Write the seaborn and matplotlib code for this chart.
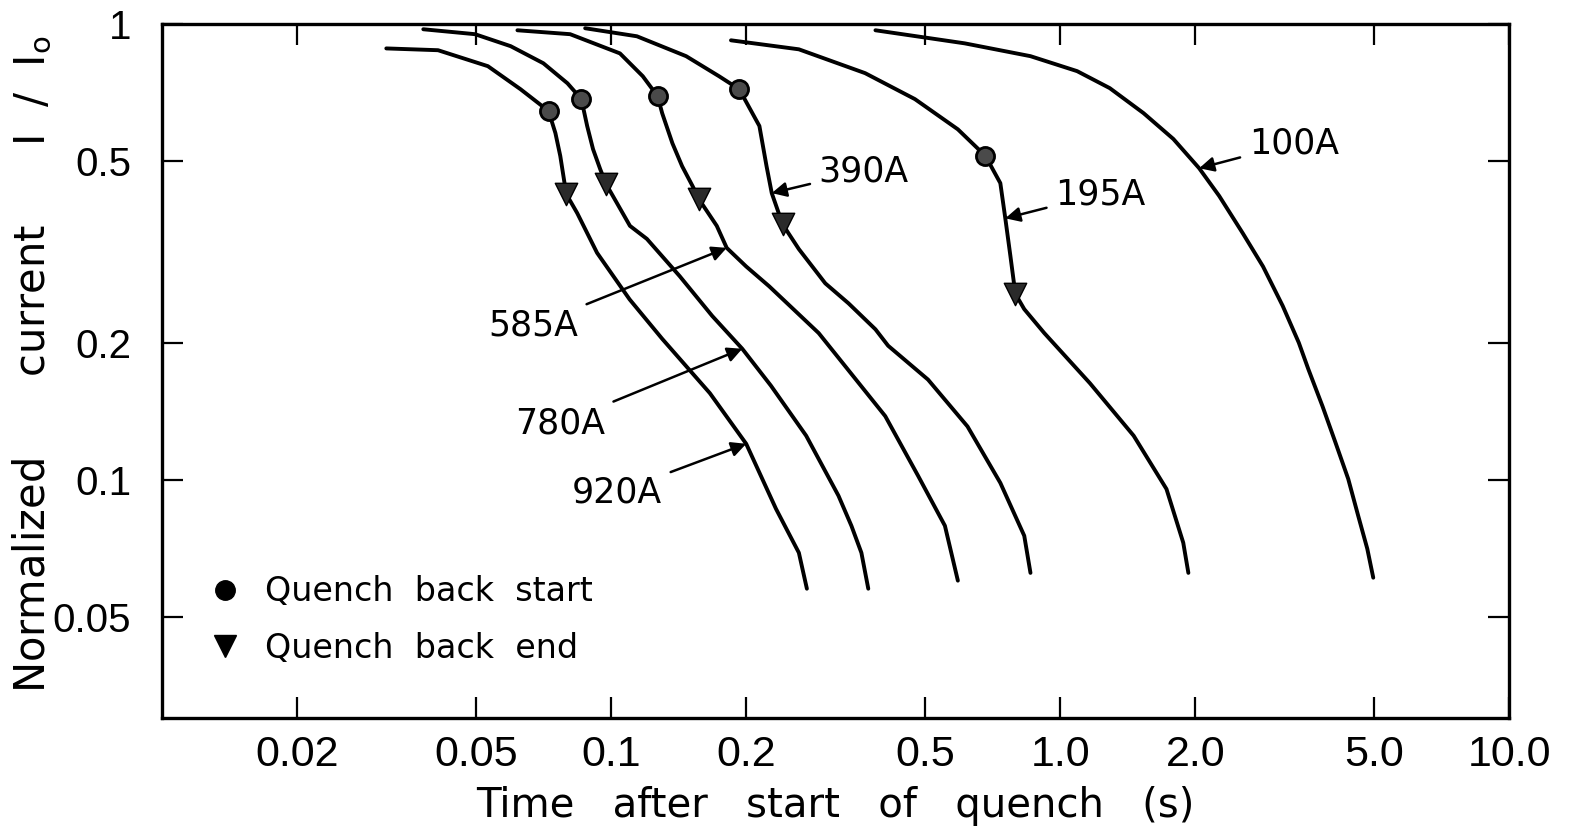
"""
Quench current decay curves, log-log, with quench-back markers.
"""

import matplotlib.pyplot as plt
from matplotlib.lines import Line2D
import pandas as pd
import seaborn as sns

# --- data ---------------------------------------------------------------
t_920 = [0.0316, 0.0412, 0.0532, 0.0629, 0.0726, 0.0752, 0.0771, 0.0795, 0.0841,
         0.0931, 0.110, 0.130, 0.166, 0.200, 0.233, 0.262, 0.273]
i_920 = [0.885, 0.877, 0.809, 0.720, 0.645, 0.577, 0.514, 0.424, 0.385,
         0.315, 0.249, 0.204, 0.155, 0.120, 0.0864, 0.0692, 0.0577]

t_780 = [0.0382, 0.0498, 0.0598, 0.0707, 0.0800, 0.0859, 0.0885, 0.0912, 0.0946,
         0.0975, 0.1031, 0.1102, 0.1202, 0.1422, 0.168, 0.196, 0.227, 0.272,
         0.321, 0.343, 0.361, 0.374]
i_780 = [0.975, 0.951, 0.895, 0.821, 0.742, 0.685, 0.598, 0.532, 0.481,
         0.446, 0.405, 0.361, 0.338, 0.280, 0.229, 0.194, 0.161, 0.125,
         0.0923, 0.0793, 0.0692, 0.0577]

t_585 = [0.0619, 0.0811, 0.1047, 0.1177, 0.127, 0.130, 0.137, 0.144, 0.152,
         0.157, 0.172, 0.181, 0.200, 0.225, 0.290, 0.408, 0.483, 0.554, 0.592]
i_585 = [0.970, 0.951, 0.863, 0.769, 0.695, 0.638, 0.548, 0.488, 0.441,
         0.413, 0.361, 0.323, 0.294, 0.266, 0.210, 0.138, 0.102, 0.0793, 0.0601]

t_390 = [0.0876, 0.1142, 0.147, 0.174, 0.193, 0.214, 0.222, 0.228, 0.241,
         0.262, 0.300, 0.338, 0.388, 0.414, 0.508, 0.622, 0.736, 0.832, 0.859]
i_390 = [0.980, 0.941, 0.851, 0.769, 0.720, 0.598, 0.488, 0.426, 0.364,
         0.321, 0.270, 0.244, 0.214, 0.197, 0.166, 0.131, 0.0985, 0.0754, 0.0625]

t_195 = [0.185, 0.262, 0.368, 0.475, 0.592, 0.682, 0.736, 0.755, 0.775,
         0.795, 0.832, 0.922, 1.165, 1.458, 1.725, 1.880, 1.930]
i_195 = [0.922, 0.881, 0.781, 0.685, 0.588, 0.514, 0.448, 0.375, 0.310,
         0.256, 0.237, 0.210, 0.163, 0.125, 0.0955, 0.0728, 0.0625]

t_100 = [0.388, 0.613, 0.859, 1.091, 1.29, 1.534, 1.787, 2.04, 2.26, 2.55, 2.83,
         3.13, 3.40, 3.57, 3.84, 4.10, 4.38, 4.61, 4.83, 4.98]
i_100 = [0.970, 0.908, 0.851, 0.789, 0.724, 0.638, 0.560, 0.483, 0.420, 0.348, 0.294,
         0.241, 0.200, 0.175, 0.145, 0.121, 0.1005, 0.0834, 0.0706, 0.0610]

currents = ["920A", "780A", "585A", "390A", "195A", "100A"]

# quench back start (circle) / end (triangle) points
qb_currents = ["920A", "780A", "585A", "390A", "195A"]
qb_start_t = [0.0726, 0.0859, 0.127, 0.193, 0.682]
qb_start_i = [0.645, 0.685, 0.695, 0.720, 0.514]
qb_end_t = [0.0795, 0.0975, 0.157, 0.241, 0.795]
qb_end_i = [0.424, 0.446, 0.413, 0.364, 0.256]

x_ticks = [0.02, 0.05, 0.1, 0.2, 0.5, 1.0, 2.0, 5.0, 10.0]
x_ticklabels = ["0.02", "0.05", "0.1", "0.2", "0.5", "1.0", "2.0", "5.0", "10.0"]
y_ticks = [0.05, 0.1, 0.2, 0.5, 1.0]
y_ticklabels = ["0.05", "0.1", "0.2", "0.5", "1"]

# label text position (tail of arrow) and arrow head, per curve
label_layout = {
    "585A": ((0.0845, 0.218), (0.181, 0.323), "right"),
    "780A": ((0.097, 0.133), (0.196, 0.194), "right"),
    "920A": ((0.130, 0.094), (0.200, 0.120), "right"),
    "390A": ((0.290, 0.476), (0.228, 0.426), "left"),
    "195A": ((0.975, 0.424), (0.755, 0.375), "left"),
    "100A": ((2.63, 0.548), (2.04, 0.483), "left"),
}

curves = {
    "920A": (t_920, i_920), "780A": (t_780, i_780), "585A": (t_585, i_585),
    "390A": (t_390, i_390), "195A": (t_195, i_195), "100A": (t_100, i_100),
}
rows = []
for name in currents:
    t, i = curves[name]
    for k, (tt, ii) in enumerate(zip(t, i)):
        rows.append({"current": name, "order": k, "t": tt, "I": ii})
df = pd.DataFrame(rows)

qb_start = pd.DataFrame({"current": qb_currents, "t": qb_start_t, "I": qb_start_i})
qb_end = pd.DataFrame({"current": qb_currents, "t": qb_end_t, "I": qb_end_i})

# --- plot ------------------------------------------------------------------
sns.set_theme(style="ticks")
plt.rcParams["font.family"] = ["DejaVu Sans"]
for key in ["text.color", "axes.labelcolor", "xtick.color", "ytick.color", "axes.edgecolor"]:
    plt.rcParams[key] = "black"
tick_font = ["Liberation Sans", "DejaVu Sans"]

fig = plt.figure(figsize=(15.87, 8.36), dpi=100)
ax = fig.add_axes([0.102, 0.141, 0.849, 0.830])

sns.lineplot(
    data=df, x="t", y="I", hue="current", palette=["black"] * len(currents),
    estimator=None, sort=False, units="current", linewidth=2.8, legend=False, ax=ax,
)
for line in ax.get_lines():
    line.set_solid_joinstyle("round")
    line.set_solid_capstyle("round")

sns.scatterplot(data=qb_start, x="t", y="I", marker="o", s=170, color="#4a4a4a",
                edgecolor="black", linewidth=2.0, zorder=5, legend=False, ax=ax)
sns.scatterplot(data=qb_end, x="t", y="I", marker="v", s=260, color="#2a2a2a",
                edgecolor="black", linewidth=1.0, zorder=5, legend=False, ax=ax)

ax.set_xscale("log")
ax.set_yscale("log")
ax.set_xlim(0.01, 10.0)
ax.set_ylim(0.03, 1.0)

ax.set_xticks(x_ticks)
ax.set_xticklabels(x_ticklabels, family=tick_font, fontsize=31)
ax.set_yticks(y_ticks)
ax.set_yticklabels(y_ticklabels, family=tick_font, fontsize=29)
ax.minorticks_off()
ax.tick_params(which="both", direction="in", length=15, width=1.6,
               top=True, right=True, color="black")
ax.tick_params(axis="x", pad=12)
ax.tick_params(axis="y", pad=22)
for sp in ax.spines.values():
    sp.set_linewidth(2.4)
    sp.set_color("black")

ax.set_xlabel("Time   after   start   of   quench   (s)", fontsize=29, labelpad=8)
ax.set_ylabel("Normalized      current      I  /  I$_\\mathrm{o}$", fontsize=30)
ax.yaxis.set_label_coords(-0.08, 0.51)

for name, ((tx, ty), (hx, hy), ha) in label_layout.items():
    ax.annotate(
        name, xy=(hx, hy), xytext=(tx, ty), ha=ha, va="center", fontsize=25,
        arrowprops=dict(arrowstyle="-|>", color="black", lw=1.8,
                        mutation_scale=22, shrinkA=4, shrinkB=0),
    )

handles = [
    Line2D([], [], marker="o", linestyle="none", color="black", markersize=14),
    Line2D([], [], marker="v", linestyle="none", color="black", markersize=16),
]
ax.legend(handles, ["Quench  back  start", "Quench  back  end"], loc="lower left",
          bbox_to_anchor=(0.022, 0.058), frameon=False, fontsize=24,
          handletextpad=0.6, handlelength=1.2, labelspacing=0.7, borderaxespad=0)

fig.savefig("out.png", dpi=100, facecolor="white")
